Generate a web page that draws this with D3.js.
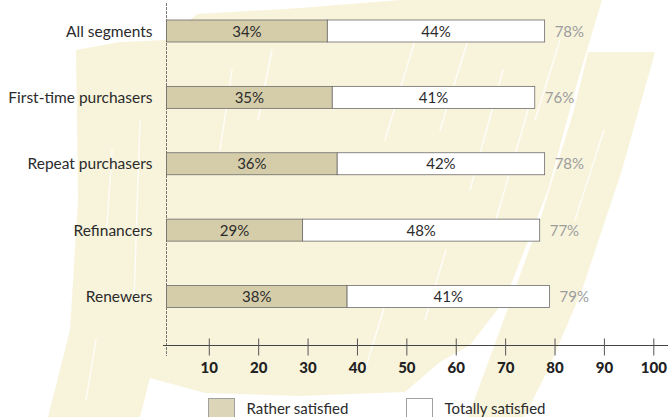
<!DOCTYPE html>
<html>
<head>
<meta charset="UTF-8">
<title>satisfaction_by_segment</title>

<style type="text/css">
	body { margin: 0; background: #ffffff; }
	text { font-family: Lato, "Open Sans", sans-serif; }

	.name {
		font-size: 15.5px;
		fill: #2b2b2b;
		text-anchor: end;
	}
	.amount {
		font-size: 15px;
		fill: #2b2b2b;
		text-anchor: middle;
	}
	.total {
		font-size: 15px;
		fill: #9c9c9c;
	}
	.axis text {
		font-size: 15px;
		font-weight: 900;
		fill: #222222;
	}
	.axis line { stroke: #555555; }
	.legend {
		font-size: 15px;
		fill: #2b2b2b;
	}
</style>

<script type="text/javascript" src="https://cdn.jsdelivr.net/npm/d3@7/dist/d3.min.js" charset="utf-8"></script>
</head>
<body>

<div id="div_main"></div>

<script type="text/javascript">

	// data
	var segments = ["All segments", "First-time purchasers", "Repeat purchasers", "Refinancers", "Renewers"];
	var rather   = [34, 35, 36, 29, 38];
	var totally  = [44, 41, 42, 48, 41];
	var totals   = [78, 76, 78, 77, 79];
	var tickValues = [10, 20, 30, 40, 50, 60, 70, 80, 90, 100];
	var seriesNames = ["Rather satisfied", "Totally satisfied"];

	var svg_w = 668, svg_h = 417;
	var colRather = "#d5cda9", colTotally = "#ffffff", colCream = "#f8f4dc";

	var svg = d3.select("#div_main")
				.append("svg")
					.attr("width", svg_w)
					.attr("height", svg_h);

	// brushed background decoration
	var bg = svg.append("g");
	var creamShapes = [
		[[76,50],[120,42],[166,40],[197,14],[300,8],[400,0],[602,0],[578,80],[548,190],[505,300],
		 [470,345],[440,362],[405,392],[300,396],[205,393],[150,378],[140,417],[48,417],[70,330],[78,200]],
		[[588,52],[655,52],[622,170],[582,290],[548,370],[524,417],[468,417],[500,330],[540,220],[574,110]]
	];
	bg.selectAll("path.cream")
		.data(creamShapes)
		.enter()
		.append("path")
			.attr("class", "cream")
			.attr("d", function (d) { return "M" + d.join("L") + "Z"; })
			.attr("fill", colCream);

	var whiteStreaks = [
		[[112,150],[106,240]], [[140,120],[134,300]], [[96,340],[86,400]],
		[[232,70],[220,150]], [[272,50],[258,120]], [[418,30],[385,140]],
		[[468,40],[440,130]], [[503,70],[470,190]], [[528,110],[490,240]],
		[[560,40],[535,120]], [[604,130],[575,220]], [[446,250],[425,320]],
		[[385,305],[365,370]]
	];
	bg.selectAll("line.streak")
		.data(whiteStreaks)
		.enter()
		.append("line")
			.attr("class", "streak")
			.attr("x1", function (d) { return d[0][0]; })
			.attr("y1", function (d) { return d[0][1]; })
			.attr("x2", function (d) { return d[1][0]; })
			.attr("y2", function (d) { return d[1][1]; })
			.attr("stroke", "#ffffff")
			.attr("stroke-width", 1.5)
			.attr("stroke-linecap", "round")
			.attr("opacity", 0.8);

	// scales
	var scaleX = d3.scaleLinear()
					.domain([0, 100])
					.range([159.4, 653.3]);

	var scaleY = d3.scalePoint()
					.domain(segments)
					.range([31, 296.5]);

	var baseX = 166.5;   // the plot's left edge, where the bars start
	var barH = 22;
	var axisY = 345.5;

	var rows = segments.map(function (s, i) {
		return { name: s, rather: rather[i], totally: totally[i], total: totals[i] };
	});

	// vertical axis line
	svg.append("line")
		.attr("x1", baseX).attr("x2", baseX)
		.attr("y1", 3).attr("y2", 356)
		.attr("stroke", "#777777")
		.attr("stroke-width", 1)
		.attr("stroke-dasharray", "3,1");

	// bars
	var bar = svg.selectAll("g.bar")
				.data(rows)
				.enter()
				.append("g")
					.attr("class", "bar")
					.attr("transform", function (d) { return "translate(0," + (scaleY(d.name) - barH / 2) + ")"; });

	bar.append("rect")
		.attr("x", baseX)
		.attr("y", 0)
		.attr("width", function (d) { return scaleX(d.rather) - baseX; })
		.attr("height", barH)
		.attr("fill", colRather)
		.attr("stroke", "#6b6b6b")
		.attr("stroke-width", 0.8);

	bar.append("rect")
		.attr("x", function (d) { return scaleX(d.rather); })
		.attr("y", 0)
		.attr("width", function (d) { return scaleX(d.rather + d.totally) - scaleX(d.rather); })
		.attr("height", barH)
		.attr("fill", colTotally)
		.attr("stroke", "#6b6b6b")
		.attr("stroke-width", 0.8);

	bar.append("text")
		.attr("class", "amount")
		.attr("x", function (d) { return (baseX + scaleX(d.rather)) / 2; })
		.attr("y", barH / 2 + 5.5)
		.text(function (d) { return d.rather + "%"; });

	bar.append("text")
		.attr("class", "amount")
		.attr("x", function (d) { return (scaleX(d.rather) + scaleX(d.rather + d.totally)) / 2; })
		.attr("y", barH / 2 + 5.5)
		.text(function (d) { return d.totally + "%"; });

	bar.append("text")
		.attr("class", "total")
		.attr("x", function (d) { return scaleX(d.rather + d.totally) + 10; })
		.attr("y", barH / 2 + 5.5)
		.text(function (d) { return d.total + "%"; });

	// category names
	svg.selectAll("text.name")
		.data(rows)
		.enter()
		.append("text")
			.attr("class", "name")
			.attr("x", 152.5)
			.attr("y", function (d) { return scaleY(d.name) + 5.5; })
			.text(function (d) { return d.name; });

	// x axis
	svg.append("line")
		.attr("x1", 163).attr("x2", svg_w)
		.attr("y1", axisY).attr("y2", axisY)
		.attr("stroke", "#444444")
		.attr("stroke-width", 1);

	var axisX = d3.axisBottom(scaleX)
					.tickValues(tickValues)
					.tickSize(10)
					.tickFormat(d3.format("d"));

	var gx = svg.append("g")
				.attr("class", "x axis")
				.attr("transform", "translate(0," + axisY + ")")
				.call(axisX);

	gx.select(".domain").remove();
	gx.selectAll(".tick line").attr("y1", -7).attr("y2", 10);
	gx.selectAll(".tick text").attr("y", 17).attr("dy", "0.71em");

	// legend
	var legendX = [208.5, 406.5];
	var legend = svg.selectAll("g.legend-item")
					.data(seriesNames)
					.enter()
					.append("g")
						.attr("class", "legend-item")
						.attr("transform", function (d, i) { return "translate(" + legendX[i] + ",398.5)"; });

	legend.append("rect")
		.attr("width", 26)
		.attr("height", 20)
		.attr("fill", function (d, i) { return i == 0 ? "#dcd5b8" : "#ffffff"; })
		.attr("stroke", "#a0a0a0")
		.attr("stroke-width", 1);

	legend.append("text")
		.attr("class", "legend")
		.attr("x", 38)
		.attr("y", 15.5)
		.text(function (d) { return d; });

</script>

</body>
</html>
